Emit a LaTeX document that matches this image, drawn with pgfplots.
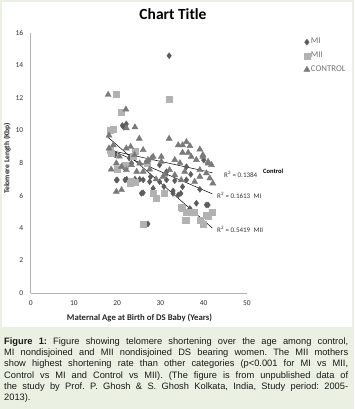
\documentclass[border=0pt]{standalone}
\usepackage{fontspec}
\setmainfont{Carlito}
\newfontfamily\arialfont{Liberation Sans}
\usepackage{pgfplots}
\pgfplotsset{compat=1.18}
\definecolor{bggreen}{RGB}{234,241,226}
\definecolor{miColor}{RGB}{92,92,92}
\definecolor{miiColor}{RGB}{178,178,178}
\definecolor{ctrlColor}{RGB}{122,122,122}
\frenchspacing
\begin{document}
\begin{tikzpicture}
\path[use as bounding box] (0pt,0pt) rectangle (354pt,409pt);
\fill[bggreen] (0pt,0pt) rectangle (354pt,409pt);
\fill[white] (2pt,82pt) rectangle (352pt,407pt);
\begin{axis}[
  at={(30.7pt,116pt)}, anchor=origin,
  scale only axis, width=216.3pt, height=260pt,
  xmin=0, xmax=50, ymin=0, ymax=16,
  axis x line=bottom, axis y line=left,
  axis line style={-, draw=black!30, line width=0.6pt},
  xtick={0,10,...,50}, ytick={0,2,...,16},
  major tick length=0pt,
  tick label style={font=\fontsize{7.5}{9}\selectfont, text=black!80},
  /pgf/number format/assume math mode=true,
  yticklabel style={xshift=-4pt},
  xticklabel style={yshift=-4pt},
  clip=false,
  legend style={at={(axis description cs:1.262,0.985)}, anchor=north west, draw=none, fill=none,
    font=\fontsize{8.8}{10}\selectfont, text=black!55, row sep=4.6pt, inner sep=0pt,
    nodes={inner sep=1pt}},
  legend cell align=left,
  legend image code/.code={\draw[mark repeat=2,mark phase=2,#1] plot coordinates {(0pt,-0.5pt) (2.5pt,-0.5pt) (5pt,-0.5pt)};},
]
% MI
\addplot[only marks, mark=diamond*, mark size=3pt, color=miColor] coordinates {
(32.0,14.6) (21.2,10.3) (22.1,10.4) (21.5,10.2)
(20.0,6.96) (21.8,6.96) (19.8,6.95) (22.2,7.0) (24.1,7.0) (25.2,7.0) (26.0,6.96)
(27.5,6.85) (27.7,7.16) (29.8,6.85) (31.4,6.96) (33.3,6.91) (36.0,6.96)
(26.0,6.17) (28.3,6.44) (25.6,6.13) (30.8,6.54) (32.9,6.28) (32.9,6.13)
(34.1,6.03) (34.7,6.13) (35.1,6.54) (38.3,5.52) (40.6,5.42) (41.0,5.42)
(39.1,6.38) (40.0,8.18) (27.1,4.25) (21.4,7.77) (23.3,7.98) (29.8,7.88)
(31.4,7.46) (36.0,7.77) (18.3,8.8) (19.5,8.5) (36.8,5.2) (37.0,7.3) (22.8,8.3)
};
% MII
\addplot[only marks, mark=square*, mark size=3pt, color=miiColor] coordinates {
(19.8,12.25) (32.0,11.9) (21.0,11.1) (18.3,10.0) (19.1,10.1) (18.3,8.8)
(18.7,8.6) (24.1,8.7) (23.7,8.4) (21.8,7.88) (23.3,6.85) (22.9,6.75)
(24.1,6.79) (28.3,6.13) (29.1,5.83) (30.8,6.13) (35.1,5.21) (34.8,5.3)
(36.0,4.95) (36.4,5.0) (37.5,5.0) (37.9,5.0) (35.8,4.45) (36.0,4.5)
(39.1,4.45) (39.8,4.25) (40.6,4.8) (41.0,4.74) (42.0,5.0) (26.0,4.25)
(20.0,7.6) (27.0,8.0)
};
% CONTROL
\addplot[only marks, mark=triangle*, mark size=3.5pt, color=ctrlColor] coordinates {
(17.9,12.2) (22.0,11.3) (24.1,10.2) (18.1,9.7) (22.1,10.15) (25.1,9.5)
(32.0,9.5) (23.1,9.0) (22.1,8.9) (19.1,9.1) (18.1,8.9) (26.0,8.8)
(34.1,9.1) (35.1,9.1) (36.0,9.3) (36.8,9.05) (39.1,8.84) (36.4,8.64)
(35.1,8.64) (37.1,8.39) (39.8,8.39) (38.3,8.19) (41.0,8.08) (41.8,7.88)
(33.3,8.19) (30.2,8.08) (28.3,8.39) (27.1,8.19) (25.2,7.98) (23.3,7.88)
(19.8,7.98) (21.0,7.78) (22.1,7.57) (24.5,7.47) (32.1,7.57) (33.3,7.26)
(39.1,7.57) (40.6,7.37) (41.4,7.06) (42.1,6.75) (39.1,7.16) (35.6,7.47)
(19.8,6.24) (21.0,6.34) (30.6,7.16) (18.6,7.6) (20.5,8.4) (29.0,7.0)
(31.0,7.3) (37.9,6.85) (34.8,6.95) (27.5,7.6) (34.5,8.0) (24.0,8.5)
(26.8,8.08) (27.9,8.29) (30.2,8.39) (26.0,7.47) (41.0,7.98) (39.8,8.5)
};
\legend{MI, MII, CONTROL}
% trendlines
\addplot[black, line width=0.5pt, forget plot] coordinates {(18,8.8) (42,7.4)};
\addplot[black, line width=0.5pt, forget plot] coordinates {(18,8.85) (42,6.1)};
\addplot[black, line width=0.5pt, forget plot] coordinates {(17.8,9.6) (42,4.0)};
\end{axis}
% chart texts
\node[anchor=base, font=\fontsize{15.5}{18}\selectfont\bfseries] at (173pt,389pt) {Chart Title};
\node[rotate=90, font=\fontsize{7.6}{9}\selectfont\bfseries, text=black!85] at (7.3pt,250.7pt) {Telomere Length (Kbp)};
\node[font=\fontsize{8.7}{10}\selectfont\bfseries, text=black!85] at (139.5pt,91pt) {Maternal Age at Birth of DS Baby (Years)};
\node[anchor=west, inner sep=0, font=\fontsize{7}{8}\selectfont, text=black!80] at (224pt,234.7pt) {R\textsuperscript{2} = 0.1384};
\node[anchor=west, inner sep=0, font=\fontsize{6.5}{8}\selectfont\bfseries] at (263pt,237.3pt) {Control};
\node[anchor=west, inner sep=0, font=\fontsize{7}{8}\selectfont, text=black!80] at (217pt,214pt) {R\textsuperscript{2} = 0.1613\enspace MI};
\node[anchor=west, inner sep=0, font=\fontsize{7}{8}\selectfont, text=black!80] at (217pt,179.7pt) {R\textsuperscript{2} = 0.5419\enspace MII};
% caption
\node[anchor=north west, inner sep=0, align=left, font=\arialfont\fontsize{9.3}{11.3}\selectfont, text=black!90] at (4pt,71.8pt) {%
\makebox[344pt][s]{\textbf{Figure 1:} Figure showing telomere shortening over the age among control,}\\
\makebox[344pt][s]{MI nondisjoined and MII nondisjoined DS bearing women. The MII mothers}\\
\makebox[344pt][s]{show highest shortening rate than other categories (p<0.001 for MI vs MII,}\\
\makebox[344pt][s]{Control vs MI and Control vs MII). (The figure is from unpublished data of}\\
\makebox[344pt][s]{the study by Prof. P. Ghosh \& S. Ghosh Kolkata, India, Study period: 2005-}\\
2013).};
\end{tikzpicture}
\end{document}
